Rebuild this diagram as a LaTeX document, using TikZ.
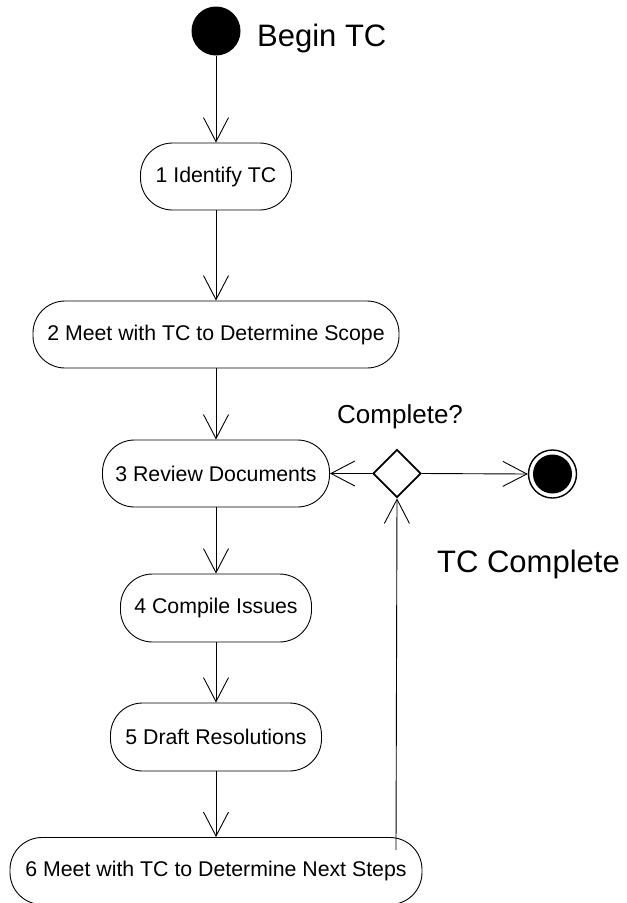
\documentclass[tikz,border=0pt]{standalone}
\usepackage{fontspec}
\setmainfont{Liberation Sans}
\usetikzlibrary{arrows.meta,shapes.geometric}
\begin{document}
\begin{tikzpicture}[x=1pt,y=-1pt,
  act/.style={draw, line width=0.9pt, rounded corners=32pt, minimum height=67pt, inner sep=0pt, font=\fontsize{21.3}{24}\selectfont},
  flow/.style={line width=0.9pt, -{Straight Barb[length=24pt,width=25pt,line width=0.9pt]}},
  big/.style={font=\fontsize{31}{36}\selectfont, inner sep=0pt},
  mid/.style={font=\fontsize{26}{30}\selectfont, inner sep=0pt}]
\useasboundingbox (0,0) rectangle (627,903);
\node[circle, fill=black, minimum size=49pt, inner sep=0pt] (start) at (216,31) {};
\node[big, anchor=base west] (lbegin) at (257,46) {Begin TC};
\node[act, minimum width=151pt] (n1) at (216,176.5) {1 Identify TC};
\node[act, minimum width=366pt] (n2) at (216,334.5) {2 Meet with TC to Determine Scope};
\node[act, minimum width=227pt] (n3) at (216,473.5) {3 Review Documents};
\node[act, minimum width=191pt, minimum height=68pt] (n4) at (216,608) {4 Compile Issues};
\node[act, minimum width=211pt, minimum height=68pt] (n5) at (216,737) {5 Draft Resolutions};
\node[act, minimum width=412pt] (n6) at (216,871) {6 Meet with TC to Determine Next Steps};
\node[diamond, draw, line width=1.8pt, minimum width=48pt, minimum height=48pt, inner sep=0pt] (dia) at (397,473.5) {};
\node[mid, anchor=base west] (lcomp) at (337,423) {Complete?};
\node[circle, draw, line width=1.4pt, minimum size=48pt, inner sep=0pt] (endc) at (552.5,474) {};
\fill (endc.center) circle (19.5pt);
\node[big, anchor=base west] (ltc) at (437,572) {TC Complete};
\coordinate (ret) at (396,850);
\draw[flow] (start) -- (n1);
\draw[flow] (n1) -- (n2);
\draw[flow] (n2) -- (n3);
\draw[flow] (n3) -- (n4);
\draw[flow] (n4) -- (n5);
\draw[flow] (n5) -- (n6);
\draw[flow] (dia.west) -- (n3.east);
\draw[flow] (dia.east) -- (endc.west);
\draw[flow] (ret) -- (dia.south);
\end{tikzpicture}
\end{document}
